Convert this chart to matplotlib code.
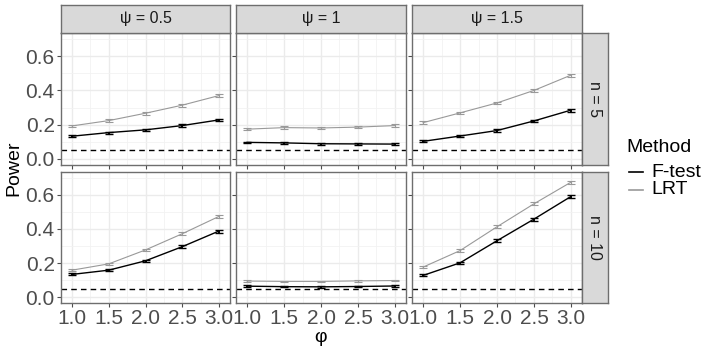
import numpy as np
import matplotlib
matplotlib.use("Agg")
import matplotlib.pyplot as plt

plt.rcParams['font.family'] = ['Liberation Sans', 'DejaVu Sans']

phi = [1.0, 1.5, 2.0, 2.5, 3.0]
psi_labels = ["ψ = 0.5", "ψ = 1", "ψ = 1.5"]
n_labels = ["n = 5", "n = 10"]

# power[row][col] for each method
ftest = [
    [[0.133, 0.154, 0.170, 0.195, 0.228],
     [0.097, 0.094, 0.089, 0.088, 0.087],
     [0.103, 0.134, 0.166, 0.222, 0.285]],
    [[0.133, 0.158, 0.213, 0.296, 0.388],
     [0.064, 0.061, 0.060, 0.062, 0.065],
     [0.127, 0.201, 0.331, 0.458, 0.591]],
]
lrt = [
    [[0.193, 0.224, 0.267, 0.314, 0.370],
     [0.174, 0.183, 0.181, 0.186, 0.195],
     [0.212, 0.269, 0.327, 0.400, 0.489]],
    [[0.158, 0.195, 0.277, 0.372, 0.474],
     [0.094, 0.092, 0.092, 0.095, 0.097],
     [0.176, 0.273, 0.413, 0.548, 0.675]],
]
ftest_err = [
    [[0.006, 0.006, 0.006, 0.007, 0.008],
     [0.005, 0.005, 0.005, 0.005, 0.005],
     [0.006, 0.006, 0.007, 0.008, 0.009]],
    [[0.006, 0.006, 0.007, 0.008, 0.009],
     [0.004, 0.004, 0.004, 0.004, 0.004],
     [0.006, 0.007, 0.008, 0.009, 0.009]],
]
lrt_err = [
    [[0.007, 0.007, 0.008, 0.008, 0.009],
     [0.007, 0.007, 0.007, 0.007, 0.007],
     [0.007, 0.008, 0.008, 0.009, 0.009]],
    [[0.007, 0.007, 0.008, 0.009, 0.010],
     [0.005, 0.005, 0.005, 0.005, 0.005],
     [0.007, 0.008, 0.009, 0.009, 0.009]],
]
alpha_level = 0.05

W, H = 714, 357
fig = plt.figure(figsize=(W / 100, H / 100), dpi=100)

def box(x0, y0, x1, y1):
    return [x0 / W, 1 - y1 / H, (x1 - x0) / W, (y1 - y0) / H]

col_x = [(61, 230), (236, 406), (412, 582)]
row_y = [(33, 165), (172, 303)]
tick_col = "#4D4D4D"
edge = "#6E6E6E"

for r in range(2):
    for c in range(3):
        ax = fig.add_axes(box(col_x[c][0], row_y[r][0], col_x[c][1], row_y[r][1]))
        ax.set_facecolor("white")
        ax.set_xlim(0.85, 3.15)
        ax.set_ylim(-0.035, 0.735)
        ax.set_xticks(phi)
        ax.set_xticks([1.25, 1.75, 2.25, 2.75], minor=True)
        ax.set_yticks([0.0, 0.2, 0.4, 0.6])
        ax.set_yticks([0.1, 0.3, 0.5, 0.7], minor=True)
        ax.grid(which="major", color="#EBEBEB", lw=1.0)
        ax.grid(which="minor", color="#F2F2F2", lw=0.6)
        ax.set_axisbelow(True)
        for s in ax.spines.values():
            s.set_color(edge)
            s.set_linewidth(1.0)
        ax.tick_params(which="major", length=3, color=tick_col, width=0.8,
                       labelsize=15, labelcolor=tick_col, pad=1.5)
        ax.tick_params(which="minor", length=0)
        if c > 0:
            ax.tick_params(labelleft=False)
        else:
            ax.set_yticklabels(["0.0", "0.2", "0.4", "0.6"])
        if r == 0:
            ax.tick_params(labelbottom=False)
        else:
            ax.set_xticklabels(["1.0", "1.5", "2.0", "2.5", "3.0"])

        ax.axhline(alpha_level, color="black", lw=1.0, ls=(0, (4, 3)), zorder=2)
        ax.errorbar(phi, lrt[r][c], yerr=lrt_err[r][c], color="#999999", lw=0.8,
                    capsize=3, capthick=0.8, elinewidth=0.8, zorder=3)
        ax.errorbar(phi, ftest[r][c], yerr=ftest_err[r][c], color="black", lw=1.0,
                    capsize=3, capthick=1.0, elinewidth=1.4, zorder=4)

        if r == 0:
            sa = fig.add_axes(box(col_x[c][0], 5, col_x[c][1], 33))
            sa.set_facecolor("#D9D9D9")
            sa.set_xticks([]); sa.set_yticks([])
            for s in sa.spines.values():
                s.set_color(edge); s.set_linewidth(1.0)
            sa.text(0.5, 0.5, psi_labels[c], ha="center", va="center",
                    fontsize=11.5, color="#1A1A1A", transform=sa.transAxes)
        if c == 2:
            sa = fig.add_axes(box(582, row_y[r][0], 608, row_y[r][1]))
            sa.set_facecolor("#D9D9D9")
            sa.set_xticks([]); sa.set_yticks([])
            for s in sa.spines.values():
                s.set_color(edge); s.set_linewidth(1.0)
            sa.text(0.5, 0.5, n_labels[r], ha="center", va="center", rotation=-90,
                    fontsize=11.5, color="#1A1A1A", transform=sa.transAxes)

fig.text(14 / W, 1 - 168 / H, "Power", rotation=90, ha="center", va="center", fontsize=14)
fig.text(321 / W, 1 - 337 / H, "φ", ha="center", va="center", fontsize=14)

# legend
fig.text(626 / W, 1 - 147 / H, "Method", ha="left", va="center", fontsize=14)
for i, (lab, col) in enumerate([("F-test", "black"), ("LRT", "#999999")]):
    yy = 1 - (172 + i * 18) / H
    fig.add_artist(plt.Line2D([629 / W, 643 / W], [yy, yy], color=col, lw=1.2))
    fig.text(651 / W, yy, lab, ha="left", va="center", fontsize=14)

fig.savefig("out.png", dpi=100)
